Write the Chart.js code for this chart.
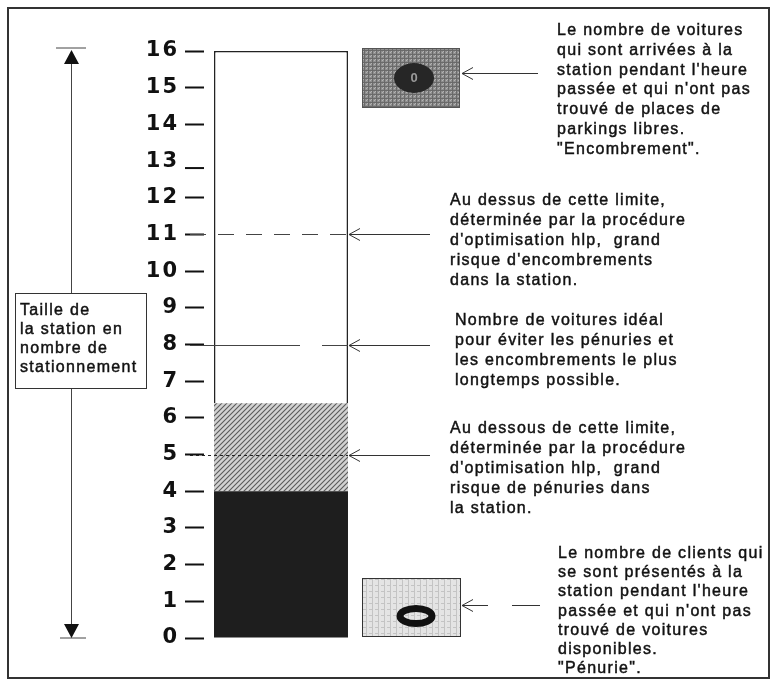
<!DOCTYPE html>
<html>
<head>
<meta charset="utf-8">
<script src="https://cdn.jsdelivr.net/npm/chart.js@4.4.0/dist/chart.umd.min.js"></script>
<style>
  body { margin: 0; background: #fff; }
  canvas { display: block; }
</style>
</head>
<body>
<canvas id="myChart" width="775" height="680"></canvas>
<script>
// the one bar of the station, stacked in three zones
var categories = ['Station'];
var zoneLabels = ['Pénurie', 'Zone basse', 'Places'];
var zoneValues = [4, 2.4, 9.6];
var zoneColors = ['#1e1e1e', 'hatch', '#ffffff'];

// limits shown by the dashed lines: 11 (encombrement), 8 (idéal), 5 (pénurie)
var limitValues = [11, 8, 5];
var limitDashes = [[16, 12], [110, 22], [3, 3]];

var yMin = 0;
var yMax = 16;

var sideLabel = ['Taille de', 'la station en', 'nombre de', 'stationnement'];

var noteTop = ['Le nombre de voitures', 'qui sont arrivées à la', "station pendant l'heure",
    "passée et qui n'ont pas", 'trouvé de places de', 'parkings libres.', '"Encombrement".'];
var noteHigh = ['Au dessus de cette limite,', 'déterminée par la procédure',
    "d'optimisation hlp,  grand", "risque d'encombrements", 'dans la station.'];
var noteIdeal = ['Nombre de voitures idéal', 'pour éviter les pénuries et',
    'les encombrements le plus', 'longtemps possible.'];
var noteLow = ['Au dessous de cette limite,', 'déterminée par la procédure',
    "d'optimisation hlp,  grand", 'risque de pénuries dans', 'la station.'];
var noteBottom = ['Le nombre de clients qui', 'se sont présentés à la', "station pendant l'heure",
    "passée et qui n'ont pas", 'trouvé de voitures', 'disponibles.', '"Pénurie".'];

function makePattern(size, bg, draw) {
    var c = document.createElement('canvas');
    c.width = size;
    c.height = size;
    var p = c.getContext('2d');
    p.fillStyle = bg;
    p.fillRect(0, 0, size, size);
    draw(p);
    return document.getElementById('myChart').getContext('2d').createPattern(c, 'repeat');
}

var hatch = makePattern(5, '#d2d2d2', function(p) {
    p.strokeStyle = '#5a5a5a';
    p.lineWidth = 1.1;
    p.beginPath();
    p.moveTo(0, 5); p.lineTo(5, 0);
    p.moveTo(-1, 1); p.lineTo(1, -1);
    p.moveTo(4, 6); p.lineTo(6, 4);
    p.stroke();
});
var darkGrid = makePattern(4, '#8e8e8e', function(p) {
    p.fillStyle = '#6a6a6a';
    p.fillRect(0, 0, 1, 4);
    p.fillRect(0, 2, 4, 1);
    p.fillStyle = '#b4b4b4';
    p.fillRect(2, 0, 1, 1);
    p.fillRect(3, 3, 1, 1);
});
var lightGrid = makePattern(6, '#e4e4e4', function(p) {
    p.fillStyle = '#c4c4c4';
    p.fillRect(0, 0, 1, 6);
    p.fillRect(3, 3, 3, 1);
});

function arrowLeft(ctx, x1, x2, y) {
    ctx.beginPath();
    ctx.moveTo(x2, y);
    ctx.lineTo(x1, y);
    ctx.moveTo(x1 + 11, y - 6);
    ctx.lineTo(x1, y);
    ctx.lineTo(x1 + 11, y + 6);
    ctx.stroke();
}

function writeLines(ctx, lines, x, y, step) {
    lines.forEach(function(line, i) {
        ctx.strokeText(line, x, y + i * step);
        ctx.fillText(line, x, y + i * step);
    });
}

// wider tick digits, like the scanned figure
var tickSpacing = {
    id: 'tickSpacing',
    beforeDraw: function(chart) { chart.ctx.letterSpacing = '2px'; },
    beforeDatasetsDraw: function(chart) { chart.ctx.letterSpacing = '0px'; }
};

var overlay = {
    id: 'overlay',
    afterDraw: function(chart) {
        var ctx = chart.ctx;
        var y = chart.scales.y;
        var bar = chart.getDatasetMeta(2).data[0];
        var right = bar.x + bar.width / 2;
        ctx.save();

        // frame
        ctx.strokeStyle = '#333';
        ctx.lineWidth = 2;
        ctx.strokeRect(8, 8, 761, 670);

        // lower tick of "13"
        ctx.strokeStyle = '#111';
        ctx.lineWidth = 2;
        ctx.beginPath();
        ctx.moveTo(185, y.getPixelForValue(13) + 7);
        ctx.lineTo(204, y.getPixelForValue(13) + 7);
        ctx.stroke();

        // dashed limit lines and their arrows
        ctx.lineWidth = 1;
        limitValues.forEach(function(v, i) {
            var py = Math.round(y.getPixelForValue(v)) + 0.5;
            ctx.strokeStyle = i === 2 ? '#222' : '#444';
            ctx.setLineDash(limitDashes[i]);
            ctx.beginPath();
            ctx.moveTo(190, py);
            ctx.lineTo(right, py);
            ctx.stroke();
            ctx.setLineDash([]);
            ctx.strokeStyle = '#333';
            arrowLeft(ctx, right + 1, 430, py);
        });

        // left size arrow
        ctx.strokeStyle = '#444';
        ctx.lineWidth = 1;
        var top = y.getPixelForValue(yMax);
        var bottom = y.getPixelForValue(yMin);
        ctx.beginPath();
        ctx.moveTo(71.5, top + 6); ctx.lineTo(71.5, 293);
        ctx.moveTo(71.5, 388); ctx.lineTo(71.5, bottom - 6);
        ctx.moveTo(56, top - 3); ctx.lineTo(86, top - 3);
        ctx.moveTo(60, bottom); ctx.lineTo(86, bottom);
        ctx.stroke();
        ctx.fillStyle = '#111';
        ctx.beginPath();
        ctx.moveTo(71.5, top - 1); ctx.lineTo(64, top + 13); ctx.lineTo(79, top + 13); ctx.closePath();
        ctx.moveTo(71.5, bottom); ctx.lineTo(64, bottom - 14); ctx.lineTo(79, bottom - 14); ctx.closePath();
        ctx.fill();
        ctx.strokeStyle = '#333';
        ctx.strokeRect(15.5, 293.5, 131, 95);

        // icons
        ctx.fillStyle = darkGrid;
        ctx.fillRect(362, 48, 98, 60);
        ctx.strokeStyle = '#555';
        ctx.strokeRect(362.5, 48.5, 97, 59);
        ctx.fillStyle = '#262626';
        ctx.beginPath();
        ctx.ellipse(414, 78, 20, 15, 0, 0, Math.PI * 2);
        ctx.fill();
        ctx.fillStyle = '#9a9a9a';
        ctx.font = 'bold 13px "Liberation Sans"';
        ctx.textAlign = 'center';
        ctx.textBaseline = 'middle';
        ctx.fillText('0', 414, 78);

        ctx.fillStyle = lightGrid;
        ctx.fillRect(362, 578, 99, 59);
        ctx.strokeStyle = '#333';
        ctx.strokeRect(362.5, 578.5, 98, 58);
        ctx.strokeStyle = '#111';
        ctx.lineWidth = 7;
        ctx.beginPath();
        ctx.ellipse(416, 616, 16, 7.5, 0, 0, Math.PI * 2);
        ctx.stroke();

        ctx.lineWidth = 1;
        ctx.strokeStyle = '#333';
        arrowLeft(ctx, 462, 538, 73.5);
        arrowLeft(ctx, 462, 488, 605.5);
        ctx.beginPath();
        ctx.moveTo(512, 605.5); ctx.lineTo(540, 605.5);
        ctx.stroke();

        // texts
        ctx.fillStyle = '#111';
        ctx.strokeStyle = '#111';
        ctx.lineWidth = 0.45;
        ctx.font = '16px "Liberation Sans", Arial, sans-serif';
        ctx.textAlign = 'left';
        ctx.textBaseline = 'alphabetic';
        ctx.letterSpacing = '1.3px';
        writeLines(ctx, sideLabel, 20, 315, 19);
        writeLines(ctx, noteTop, 557, 35, 19.8);
        writeLines(ctx, noteHigh, 450, 205, 20);
        writeLines(ctx, noteIdeal, 455, 325, 20);
        writeLines(ctx, noteLow, 450, 433, 20);
        writeLines(ctx, noteBottom, 558, 558, 19.2);
        ctx.restore();
    }
};

var ctx = document.getElementById('myChart').getContext('2d');
var chart = new Chart(ctx, {
    type: 'bar',
    data: {
        labels: categories,
        datasets: zoneValues.map(function(v, i) {
            return {
                label: zoneLabels[i],
                data: [v],
                backgroundColor: zoneColors[i] === 'hatch' ? hatch : zoneColors[i],
                borderColor: '#222',
                borderWidth: i === 2 ? 1.5 : 0,
                barPercentage: 0.87,
                categoryPercentage: 1
            };
        })
    },
    options: {
        responsive: false,
        animation: false,
        devicePixelRatio: 1,
        layout: {
            padding: { top: 51, bottom: 42, right: 417, left: 0 }
        },
        plugins: {
            legend: { display: false },
            tooltip: { enabled: false }
        },
        scales: {
            x: { display: false, stacked: true },
            y: {
                stacked: true,
                min: yMin,
                max: yMax,
                afterFit: function(scale) { scale.width = 204; },
                border: { display: false },
                grid: {
                    drawOnChartArea: false,
                    drawTicks: true,
                    tickLength: 19,
                    tickWidth: 2,
                    tickColor: function(c) {
                        return c.tick && c.tick.value === 13 ? 'rgba(0,0,0,0)' : '#111';
                    }
                },
                ticks: {
                    stepSize: 1,
                    padding: 6,
                    color: '#111',
                    font: { family: 'DejaVu Sans', size: 21, weight: 'bold' }
                }
            }
        }
    },
    plugins: [tickSpacing, overlay]
});
</script>
</body>
</html>
